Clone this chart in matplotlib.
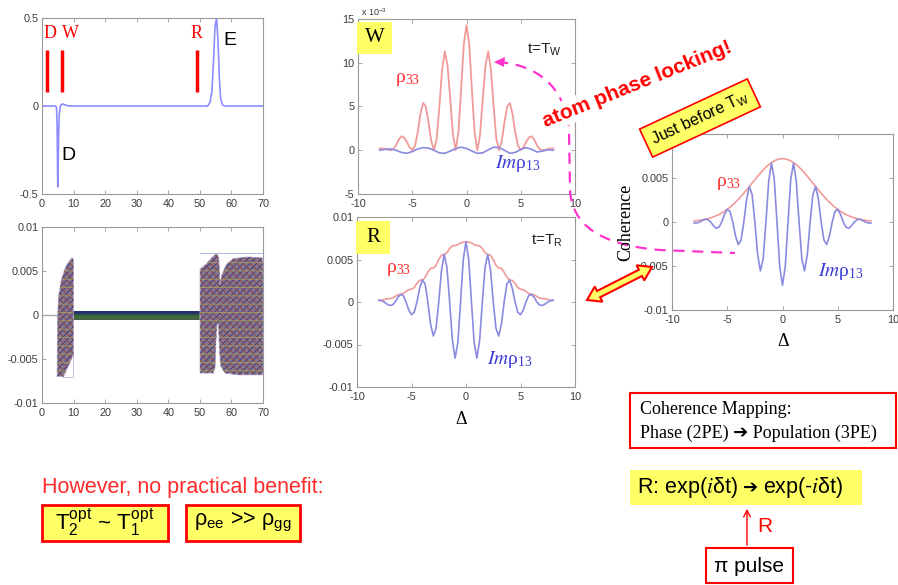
import numpy as np
import matplotlib
matplotlib.use("Agg")
import matplotlib.pyplot as plt
from matplotlib.patches import Rectangle, Polygon, PathPatch, FancyArrowPatch
from matplotlib.path import Path
from matplotlib.text import Annotation

plt.rcParams["font.family"] = ["Liberation Sans", "DejaVu Sans"]
plt.rcParams["mathtext.fontset"] = "stix"
plt.rcParams["axes.unicode_minus"] = False
plt.rcParams["hatch.linewidth"] = 0.6

W, H = 898, 585

# --------------------------------------------------------------
# Data
# --------------------------------------------------------------
# pulse sequence (top left)
pulse_t = [0, 4.3, 4.6, 4.8, 4.9, 5.0, 5.1, 5.25, 5.45, 5.8, 6.5, 7.5, 8.5,
           52.5, 53.2, 53.8, 54.3, 54.8, 55.3, 55.8, 56.2, 56.6, 57.2, 58.0, 70]
pulse_v = [0, 0, -0.01, -0.12, -0.32, -0.46, -0.38, -0.18, -0.05, 0.0, 0.012, 0.005, 0,
           0, 0.02, 0.08, 0.25, 0.45, 0.50, 0.35, 0.15, 0.04, 0.005, 0, 0]
event_t = [1.5, 6.2, 49.0]
event_label_t = [2.6, 8.9, 48.8]
event_names = ["D", "W", "R"]

# coherence bundle (bottom left), outlines in units of 1e-3
baseline_t = [0, 4.9]
bundle_a_t = [4.8, 4.85, 4.95, 5.3, 6.0, 7.0, 8.0, 9.0, 9.6, 9.95, 9.95, 6.8, 4.8]
bundle_a_y = [-7.0, -4.0, 0.0, 2.2, 3.8, 5.0, 5.8, 6.3, 6.5, 6.2, -4.5, -7.0, -7.0]
band_t = [9.95, 50.05]
band_edges = [0.4, 0.15, -0.1, -0.35, -0.6]
band_colors = ["#27306e", "#2e5a3a", "#3d6b3b", "#4b5f45"]
bundle_c_t = [50.05, 52.0, 54.0, 55.3, 56.0, 56.4, 57.0, 58.5, 60.6, 65.0, 69.7, 70.0,
              70.0, 69.7, 62.0, 58.0, 56.6, 56.2, 55.9, 55.5, 55.1, 54.8, 54.3, 50.05]
bundle_c_y = [5.2, 5.8, 6.6, 7.0, 6.5, 3.5, 4.6, 5.8, 6.4, 6.6, 6.5, 6.0,
              -6.6, -6.8, -6.8, -6.6, -5.8, -4.0, -1.1, -0.9, -3.0, -6.0, -6.6, -6.6]

# detuning grid shared by the three right hand plots
delta = np.arange(-8, 8.001, 0.25)

# t = T_W  (units of 1e-3)
w_rho33 = [0.2, 0.2, 0.15, 0.05, 0.0, 0.12, 0.55, 1.2, 1.6, 1.45, 0.95, 0.35, 0.0, 0.5, 2.0, 4.1,
           5.4, 5.0, 3.2, 1.05, 0.0, 1.3, 5.0, 9.2, 11.3, 9.7, 5.9, 1.8, 0.0, 2.0, 6.9, 12.1,
           14.3,
           12.1, 6.9, 2.0, 0.0, 1.8, 5.9, 9.7, 11.3, 9.2, 5.0, 1.3, 0.0, 1.05, 3.2, 5.0,
           5.4, 4.1, 2.0, 0.5, 0.0, 0.35, 0.95, 1.45, 1.6, 1.2, 0.55, 0.12, 0.0, 0.05, 0.15, 0.2, 0.2]
w_im13_x = np.arange(-8, 8.001, 0.5)
w_im13 = [0.0, 0.1, 0.15, 0.0, -0.25, -0.35, -0.15, 0.15, 0.3, 0.25, 0.0, -0.3, -0.35, -0.1, 0.2, 0.35,
          0.2, -0.1, -0.35, -0.3, 0.05, 0.35, 0.3, 0.0, -0.35, -0.25, 0.1, 0.3, 0.1, -0.2, -0.1, 0.05, 0.0]

# t = T_R  (units of 1e-3)
r_rho33 = [0.2, 0.22, 0.3, 0.38, 0.4, 0.45, 0.65, 0.85, 0.9, 1.0, 1.25, 1.45, 1.5, 1.7, 2.2, 2.55,
           2.6, 2.9, 3.5, 3.95, 4.0, 4.3, 5.0, 5.5, 5.6, 5.8, 6.3, 6.6, 6.65, 6.75, 6.95, 7.05,
           7.1,
           7.05, 6.95, 6.75, 6.65, 6.6, 6.3, 5.8, 5.6, 5.5, 5.0, 4.3, 4.0, 3.95, 3.5, 2.9,
           2.6, 2.55, 2.2, 1.7, 1.5, 1.45, 1.25, 1.0, 0.9, 0.85, 0.65, 0.45, 0.4, 0.38, 0.3, 0.22, 0.2]
r_im13 = [0.2, 0.15, 0.0, -0.25, -0.4, -0.35, 0.0, 0.55, 0.9, 0.75, 0.0, -0.95, -1.5, -1.2, 0.0, 1.6,
          2.6, 2.1, 0.0, -2.6, -4.0, -3.1, 0.0, 3.7, 5.6, 4.1, 0.0, -4.5, -6.6, -4.8, 0.0, 5.0,
          7.1,
          5.0, 0.0, -4.8, -6.6, -4.5, 0.0, 4.1, 5.6, 3.7, 0.0, -3.1, -4.0, -2.6, 0.0, 2.1,
          2.6, 1.6, 0.0, -1.2, -1.5, -0.95, 0.0, 0.75, 0.9, 0.55, 0.0, -0.35, -0.4, -0.25, 0.0, 0.15, 0.2]

# just before T_W  (units of 1e-3)
c_rho33 = [0.12, 0.15, 0.19, 0.24, 0.31, 0.38, 0.47, 0.58, 0.71, 0.85, 1.02, 1.22, 1.44, 1.68, 1.95, 2.25,
           2.56, 2.91, 3.27, 3.64, 4.03, 4.42, 4.81, 5.19, 5.56, 5.91, 6.23, 6.51, 6.75, 6.94, 7.08, 7.17,
           7.2,
           7.17, 7.08, 6.94, 6.75, 6.51, 6.23, 5.91, 5.56, 5.19, 4.81, 4.42, 4.03, 3.64, 3.27, 2.91,
           2.56, 2.25, 1.95, 1.68, 1.44, 1.22, 1.02, 0.85, 0.71, 0.58, 0.47, 0.38, 0.31, 0.24, 0.19, 0.15, 0.12]
c_im13 = [-0.12, -0.11, 0.0, 0.17, 0.31, 0.27, 0.0, -0.41, -0.71, -0.6, 0.0, 0.86, 1.44, 1.19, 0.0, -1.59,
          -2.56, -2.06, 0.0, 2.57, 4.03, 3.12, 0.0, -3.67, -5.56, -4.18, 0.0, 4.6, 6.7, 4.91, 0.0, -5.07,
          -7.2,
          -5.07, 0.0, 4.91, 6.7, 4.6, 0.0, -4.18, -5.56, -3.67, 0.0, 3.12, 4.03, 2.57, 0.0, -2.06,
          -2.56, -1.59, 0.0, 1.19, 1.44, 0.86, 0.0, -0.6, -0.71, -0.41, 0.0, 0.27, 0.31, 0.17, 0.0, -0.11, -0.12]

# --------------------------------------------------------------
# Style
# --------------------------------------------------------------
RED_CURVE = "#f19a9a"
BLUE_CURVE = "#8a8ae0"
RED_TXT = "#ff2a2a"
BLUE_TXT = "#3a3ad8"
YELLOW = "#ffff66"
SPINE = "#999999"
SERIF = ["Liberation Serif", "DejaVu Serif"]

fig = plt.figure(figsize=(W / 100, H / 100), dpi=100)


def fx(x):
    return x / W


def fy(y):
    return 1 - y / H


def ax_px(x0, y0, x1, y1):
    return fig.add_axes([fx(x0), fy(y1), (x1 - x0) / W, (y1 - y0) / H])


def style_axes(ax):
    for s in ax.spines.values():
        s.set_color(SPINE)
        s.set_linewidth(0.8)
    ax.tick_params(direction="in", top=True, right=True, length=3, width=0.6,
                   color=SPINE, labelsize=7.8, labelcolor="#3a3a3a", pad=2)
    ax.tick_params(axis="x", pad=3.5)
    ax.tick_params(axis="y", pad=2.5)


def ftext(x, y, s, **kw):
    return fig.text(fx(x), fy(y), s, **kw)


def fbox(x0, y0, x1, y1, fc, ec="none", lw=0, z=2):
    fig.add_artist(Rectangle((fx(x0), fy(y1)), (x1 - x0) / W, (y1 - y0) / H,
                             transform=fig.transFigure, facecolor=fc, edgecolor=ec, lw=lw, zorder=z))


def after(prev, s, gap=3, **kw):
    # text placed right after another text, same height
    a = Annotation(s, xy=(1, 0.5), xycoords=prev, xytext=(gap, 0), textcoords="offset points",
                   va="center", ha="left", **kw)
    fig.add_artist(a)
    return a


# --------------------------------------------------------------
# Top left: pulse sequence
# --------------------------------------------------------------
ax1 = ax_px(42, 18, 263, 194)
ax1.plot(pulse_t, pulse_v, color="#8c8cff", lw=1.2)
for t, lt, name in zip(event_t, event_label_t, event_names):
    ax1.plot([t, t], [0.08, 0.32], color="red", lw=2.5, solid_capstyle="butt")
    ax1.text(lt, 0.41, name, color="red", fontsize=13, family=SERIF, ha="center", va="center")
ax1.text(59.5, 0.37, "E", fontsize=14, ha="center", va="center")
ax1.text(8.5, -0.28, "D", fontsize=14, ha="center", va="center")
ax1.set_xlim(0, 70)
ax1.set_ylim(-0.5, 0.5)
ax1.set_xticks(range(0, 71, 10))
ax1.set_yticks([-0.5, 0, 0.5])
ax1.set_yticklabels(["-0.5", "0", "0.5"])
style_axes(ax1)

# --------------------------------------------------------------
# Bottom left: coherence bundle
# --------------------------------------------------------------
ax2 = ax_px(42, 227, 263, 403)
ax2.plot(baseline_t, [0, 0], color="#aaaaaa", lw=1)
for i, col in enumerate(band_colors):
    ax2.fill_between(band_t, band_edges[i + 1] * 1e-3, band_edges[i] * 1e-3, color=col, lw=0)
for bt, by in [(bundle_a_t, bundle_a_y), (bundle_c_t, bundle_c_y)]:
    by = np.array(by) * 1e-3
    ax2.fill(bt, by, fc="#85778c", ec="#b9b0d6", lw=0.6)
    ax2.fill(bt, by, fc="none", ec="#34348e", hatch="/////", lw=0)
    ax2.fill(bt, by, fc="none", ec="#8e4040", hatch="\\\\\\\\\\", lw=0)
    ax2.fill(bt, by, fc="none", ec="#a59c5a", hatch="--", lw=0)
ax2.plot([50.05, 70], [0.007, 0.007], color="#a9bbe8", lw=0.7)
ax2.plot([6.8, 9.95, 9.95], [-0.007, -0.007, -0.0045], color="#c8c0d8", lw=0.7)
ax2.set_xlim(0, 70)
ax2.set_ylim(-0.01, 0.01)
ax2.set_xticks(range(0, 71, 10))
ax2.set_yticks([-0.01, -0.005, 0, 0.005, 0.01])
ax2.set_yticklabels(["-0.01", "-0.005", "0", "0.005", "0.01"])
style_axes(ax2)

# --------------------------------------------------------------
# Middle top: t = T_W
# --------------------------------------------------------------
ax3 = ax_px(358, 19, 575, 194)
ax3.plot(delta, w_rho33, color=RED_CURVE, lw=1.3)
ax3.plot(w_im13_x, w_im13, color=BLUE_CURVE, lw=1.2)
ax3.set_xlim(-10, 10)
ax3.set_ylim(-5, 15)
ax3.set_xticks([-10, -5, 0, 5, 10])
ax3.set_yticks([-5, 0, 5, 10, 15])
style_axes(ax3)
ftext(361, 12, r"x 10$^{\mathregular{-3}}$", fontsize=6.5, color="#3a3a3a", va="center")

# --------------------------------------------------------------
# Middle bottom: t = T_R
# --------------------------------------------------------------
ax4 = ax_px(357, 217, 575, 387)
ax4.plot(delta, np.array(r_rho33) * 1e-3, color=RED_CURVE, lw=1.2)
ax4.plot(delta, np.array(r_im13) * 1e-3, color=BLUE_CURVE, lw=1.2)
ax4.set_xlim(-10, 10)
ax4.set_ylim(-0.01, 0.01)
ax4.set_xticks([-10, -5, 0, 5, 10])
ax4.set_yticks([-0.01, -0.005, 0, 0.005, 0.01])
ax4.set_yticklabels(["-0.01", "-0.005", "0", "0.005", "0.01"])
style_axes(ax4)

# --------------------------------------------------------------
# Right: just before T_W
# --------------------------------------------------------------
ax5 = ax_px(672, 134, 893, 310)
ax5.plot(delta, np.array(c_rho33) * 1e-3, color=RED_CURVE, lw=1.2)
ax5.plot(delta, np.array(c_im13) * 1e-3, color=BLUE_CURVE, lw=1.2)
ax5.set_xlim(-10, 10)
ax5.set_ylim(-0.01, 0.01)
ax5.set_xticks([-10, -5, 0, 5, 10])
ax5.set_yticks([-0.01, -0.005, 0, 0.005, 0.01])
ax5.set_yticklabels(["-0.01", "-0.005", "0", "0.005", ""])
style_axes(ax5)

# --------------------------------------------------------------
# Labels on the plots
# --------------------------------------------------------------
rho33 = r"ρ$_{\mathregular{33}}$"
im13 = r"$\mathit{Im}$ρ$_{\mathregular{13}}$"
for x, y, s, c in [(395, 80, rho33, RED_TXT), (495, 164, im13, BLUE_TXT),
                   (386, 270, rho33, RED_TXT), (487, 360, im13, BLUE_TXT),
                   (716, 184, rho33, RED_TXT), (818, 272, im13, BLUE_TXT)]:
    ftext(x, y, s, color=c, fontsize=14, family=SERIF, va="center", zorder=4)

fbox(357, 22, 392, 54, YELLOW)
ftext(374.5, 38, "W", fontsize=15, family=SERIF, ha="center", va="center")
fbox(356, 221, 390, 254, YELLOW)
ftext(373, 237.5, "R", fontsize=15, family=SERIF, ha="center", va="center")
ftext(527, 50, r"t=T$_{\mathregular{W}}$", fontsize=11, color="#222222", va="center")
ftext(531, 241, r"t=T$_{\mathregular{R}}$", fontsize=11, color="#222222", va="center")
ftext(461, 420, "Δ", fontsize=13, family=SERIF, ha="center", va="center")
ftext(783, 341, "Δ", fontsize=13, family=SERIF, ha="center", va="center")
ftext(626, 222, "Coherence", fontsize=13, family=SERIF, rotation=90, ha="center", va="center")

# magenta dashed path W -> coherence plot
pts = [(497, 62), (535, 64), (565, 85), (569, 130), (570, 190),
       (572, 225), (600, 245), (660, 250), (735, 253)]
codes = [Path.MOVETO, Path.CURVE4, Path.CURVE4, Path.CURVE4, Path.LINETO,
         Path.CURVE4, Path.CURVE4, Path.CURVE4, Path.LINETO]
path = Path([(fx(x), fy(y)) for x, y in pts], codes)
fig.add_artist(PathPatch(path, transform=fig.transFigure, fc="none", ec="#ff33cc",
                         lw=1.6, ls=(0, (5, 3.5)), zorder=2.5))
head = [(494, 62), (505, 57), (504, 67)]
fig.add_artist(Polygon([(fx(x), fy(y)) for x, y in head], closed=True, transform=fig.transFigure,
                       fc="#ff33cc", ec="none", zorder=2.5))

ftext(637, 84, "atom phase locking!", fontsize=15, weight="bold", color="red",
      rotation=22, ha="center", va="center", rotation_mode="anchor", zorder=3,
      bbox=dict(boxstyle="square,pad=0.15", fc="white", ec="none"))
ftext(700, 118, r"Just before T$_{\mathregular{W}}$", fontsize=11.5, rotation=25,
      ha="center", va="center", rotation_mode="anchor", zorder=5,
      bbox=dict(boxstyle="square,pad=0.4", fc=YELLOW, ec="red", lw=1.2))

# yellow double arrow
p0 = np.array([587.0, 300.0])
p1 = np.array([652.0, 267.0])
u = (p1 - p0) / np.linalg.norm(p1 - p0)
n = np.array([-u[1], u[0]])
sh, hw, hl = 3.5, 8.5, 13.0
poly = [p0, p0 + u * hl + n * hw, p0 + u * hl + n * sh, p1 - u * hl + n * sh, p1 - u * hl + n * hw,
        p1, p1 - u * hl - n * hw, p1 - u * hl - n * sh, p0 + u * hl - n * sh, p0 + u * hl - n * hw]
fig.add_artist(Polygon([(fx(x), fy(y)) for x, y in poly], closed=True, transform=fig.transFigure,
                       fc=YELLOW, ec="red", lw=1.5, zorder=4))

# --------------------------------------------------------------
# Text boxes at the bottom
# --------------------------------------------------------------
fbox(630, 393, 896, 448, "white", "red", 1.5)
ftext(640, 410, "Coherence Mapping:", fontsize=13, family=SERIF, va="center")
ftext(640, 433, "Phase (2PE) ➔ Population (3PE)", fontsize=13,
      family=["Liberation Serif", "DejaVu Sans"], va="center")

ftext(42, 487, "However, no practical benefit:", fontsize=15.5, color=RED_TXT, va="center")
fbox(42, 505, 168, 541, YELLOW, "red", 2)
ftext(105, 523, r"T$_{\mathregular{2}}^{\mathregular{opt}}$ ~ T$_{\mathregular{1}}^{\mathregular{opt}}$",
      fontsize=16, ha="center", va="center")
fbox(186, 505, 300, 541, YELLOW, "red", 2)
ftext(243, 522, r"ρ$_{\mathregular{ee}}$ >> ρ$_{\mathregular{gg}}$",
      fontsize=15.5, ha="center", va="center")

fbox(630, 470, 862, 505, YELLOW)
r_left = ftext(637, 488, r"R: exp($\mathit{i}$δt)", fontsize=15.5, va="center", zorder=3)
r_arrow = after(r_left, "➔", gap=3.5, fontsize=13, family=["DejaVu Sans"], zorder=3)
after(r_arrow, r"exp(-$\mathit{i}$δt)", gap=3.5, fontsize=15.5, zorder=3)
fig.add_artist(FancyArrowPatch((fx(747), fy(548)), (fx(747), fy(506)), transform=fig.transFigure,
                               arrowstyle="->", mutation_scale=12, color="red", lw=1, zorder=3))
ftext(765, 527, "R", fontsize=15, color="red", ha="center", va="center")
fbox(706, 548, 793, 583, "white", "red", 1.5)
ftext(749.5, 566, "π pulse", fontsize=15, ha="center", va="center")

fig.savefig("out.png", dpi=100)
